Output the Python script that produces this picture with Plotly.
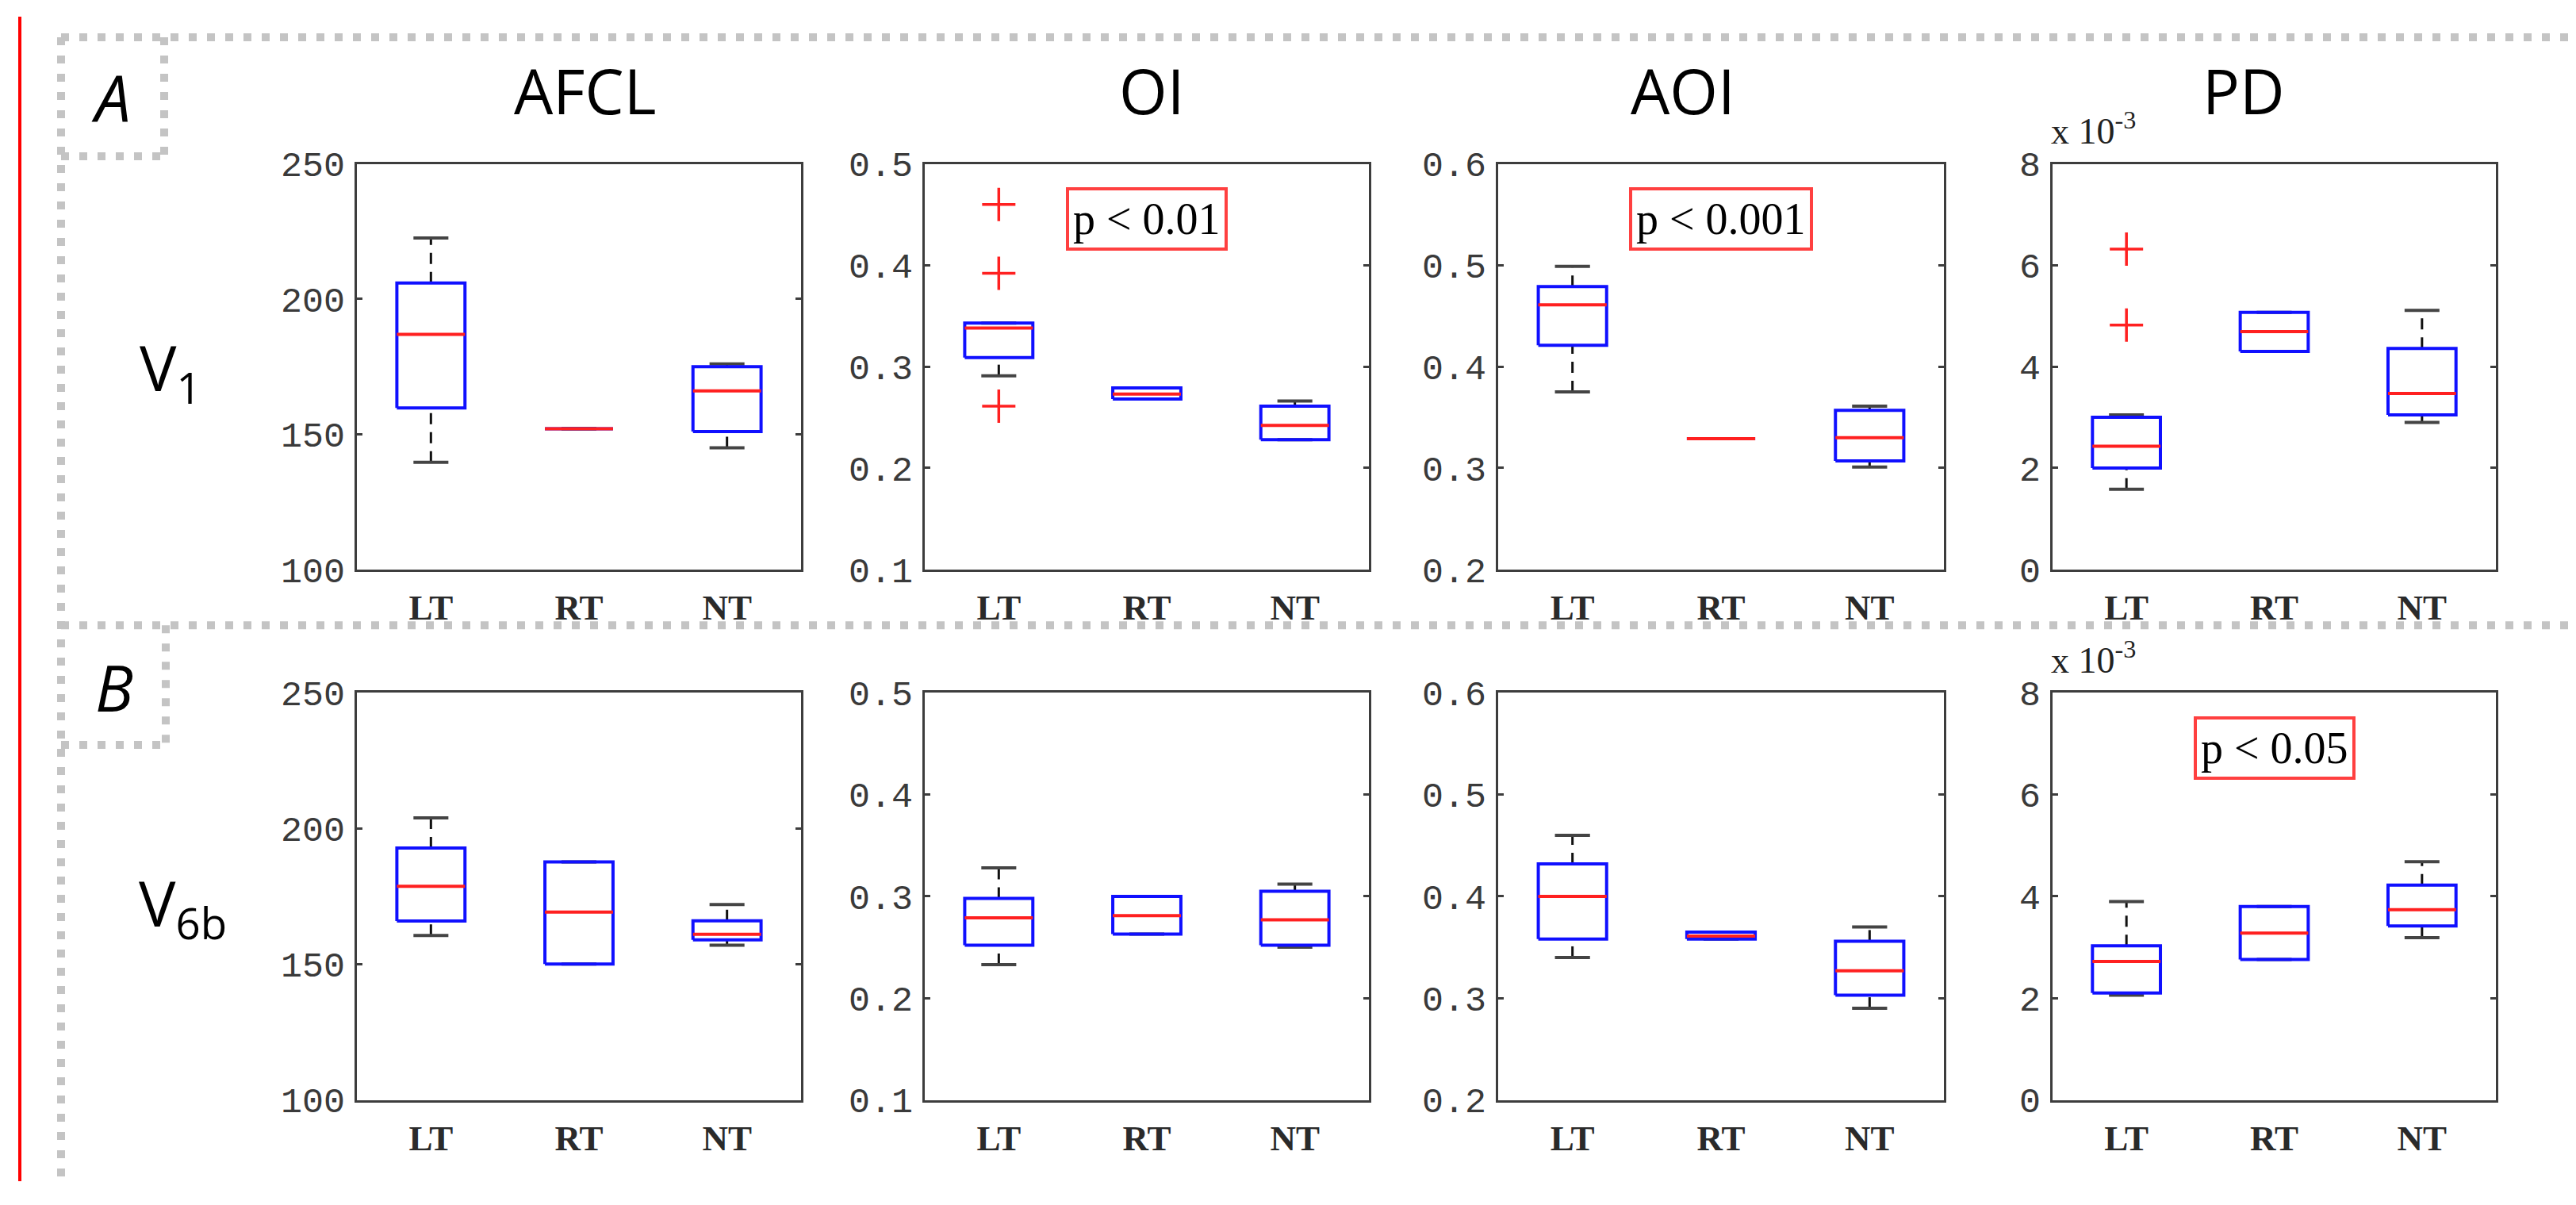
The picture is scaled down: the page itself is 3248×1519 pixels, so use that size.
import plotly.graph_objects as go

W, H = 3248, 1519

groups = ["LT", "RT", "NT"]
titles = ["AFCL", "OI", "AOI", "PD"]

# Each group: [lower whisker, Q1, median, Q3, upper whisker]
afcl_v1 = [[139.6, 159.7, 186.9, 205.9, 222.6], [152.0, 152.0, 152.0, 152.0, 152.0], [145.0, 151.0, 166.0, 175.0, 176.0]]
oi_v1 = [[0.291, 0.309, 0.338, 0.343, 0.343], [0.268, 0.268, 0.273, 0.279, 0.279], [0.228, 0.228, 0.242, 0.261, 0.266]]
aoi_v1 = [[0.375, 0.421, 0.461, 0.479, 0.499], [0.329, 0.329, 0.329, 0.329, 0.329], [0.301, 0.307, 0.330, 0.357, 0.361]]
pd_v1 = [[1.58, 2.00, 2.43, 3.00, 3.05], [4.30, 4.30, 4.69, 5.07, 5.07], [2.90, 3.05, 3.47, 4.36, 5.11]]  # x 10^-3

afcl_v6b = [[160.6, 165.9, 178.7, 192.8, 203.9], [150.1, 150.1, 169.2, 187.7, 187.7], [157.0, 159.0, 161.0, 166.0, 172.0]]
oi_v6b = [[0.233, 0.252, 0.279, 0.298, 0.328], [0.263, 0.263, 0.281, 0.300, 0.300], [0.250, 0.252, 0.277, 0.305, 0.312]]
aoi_v6b = [[0.340, 0.358, 0.400, 0.432, 0.460], [0.358, 0.358, 0.361, 0.365, 0.365], [0.290, 0.303, 0.327, 0.356, 0.370]]
pd_v6b = [[2.06, 2.10, 2.72, 3.03, 3.90], [2.76, 2.76, 3.28, 3.80, 3.80], [3.19, 3.42, 3.74, 4.22, 4.68]]  # x 10^-3

# Outliers (LT, RT, NT)
oi_v1_out = [[0.460, 0.392, 0.261], [], []]
pd_v1_out = [[6.32, 4.82], [], []]

# Axis ticks
afcl_ticks = [100, 150, 200, 250]
oi_ticks = [0.1, 0.2, 0.3, 0.4, 0.5]
aoi_ticks = [0.2, 0.3, 0.4, 0.5, 0.6]
pd_ticks = [0, 2, 4, 6, 8]

p_labels = {2: "p &lt; 0.01", 3: "p &lt; 0.001", 8: "p &lt; 0.05"}

# ---------------- layout geometry (pixels) ----------------
col_px = [(450, 1010), (1166, 1726), (1889, 2451), (2588, 3147)]
row_px = [(192, 721), (882, 1413)]
title_x = [737, 1452, 2122, 2829]


def px_x(v):
    return v / W


def px_y(v):
    return 1 - v / H


BW = 0.23   # half box width (category units)
CW = 0.118  # half cap width

AX_COL = "#3d3d3d"
BLUE = "#1010ff"
RED = "#ff2020"

fig = go.Figure()

panels = [
    (afcl_v1, afcl_ticks, None), (oi_v1, oi_ticks, oi_v1_out), (aoi_v1, aoi_ticks, None), (pd_v1, pd_ticks, pd_v1_out),
    (afcl_v6b, afcl_ticks, None), (oi_v6b, oi_ticks, None), (aoi_v6b, aoi_ticks, None), (pd_v6b, pd_ticks, None),
]

layout_axes = {}
for k, (data, ticks, outs) in enumerate(panels, start=1):
    r = (k - 1) // 4
    c = (k - 1) % 4
    xa, ya = f"x{k}", f"y{k}"
    bx, by, mx, my, wx, wy, cx, cy, ox, oy = [], [], [], [], [], [], [], [], [], []
    for i, (lo, q1, med, q3, hi) in enumerate(data):
        p = i + 1
        bx += [p - BW, p + BW, p + BW, p - BW, p - BW, None]
        by += [q1, q1, q3, q3, q1, None]
        mx += [p - BW, p + BW, None]
        my += [med, med, None]
        if hi > q3:
            wx += [p, p, None]
            wy += [q3, hi, None]
        if lo < q1:
            wx += [p, p, None]
            wy += [lo, q1, None]
        cx += [p - CW, p + CW, None, p - CW, p + CW, None]
        cy += [hi, hi, None, lo, lo, None]
        if outs:
            for v in outs[i]:
                ox.append(p)
                oy.append(v)
    common = dict(xaxis=xa, yaxis=ya, showlegend=False, hoverinfo="skip")
    fig.add_trace(go.Scatter(x=wx, y=wy, mode="lines", line=dict(color="#111111", width=3, dash="14px,10px"), **common))
    fig.add_trace(go.Scatter(x=cx, y=cy, mode="lines", line=dict(color="#444444", width=4), **common))
    fig.add_trace(go.Scatter(x=bx, y=by, mode="lines", line=dict(color=BLUE, width=4), **common))
    fig.add_trace(go.Scatter(x=mx, y=my, mode="lines", line=dict(color=RED, width=4), **common))
    if ox:
        fig.add_trace(go.Scatter(x=ox, y=oy, mode="markers",
                                 marker=dict(symbol="cross-thin", size=30, line=dict(color=RED, width=3.5)),
                                 **common))

    x0, x1 = col_px[c]
    y0, y1 = row_px[r]
    suffix = "" if k == 1 else str(k)
    layout_axes["xaxis" + suffix] = dict(
        domain=[px_x(x0), px_x(x1)], anchor=ya, range=[0.5, 3.5],
        tickvals=[1, 2, 3], ticktext=groups, ticks="",
        showline=True, mirror=True, linecolor=AX_COL, linewidth=3,
        showgrid=False, zeroline=False, fixedrange=True,
        tickfont=dict(family="Liberation Serif", size=45, color="#2a2a2a", weight="bold"),
        ticklabelstandoff=6,
    )
    layout_axes["yaxis" + suffix] = dict(
        domain=[px_y(y1), px_y(y0)], anchor=xa, range=[ticks[0], ticks[-1]],
        tickvals=ticks, ticktext=[str(t) for t in ticks],
        ticks="inside", ticklen=7, tickwidth=3, tickcolor=AX_COL,
        showline=True, mirror="ticks", linecolor=AX_COL, linewidth=3,
        showgrid=False, zeroline=False, fixedrange=True,
        tickfont=dict(family="Liberation Mono", size=45, color="#3a3a3a"),
        ticklabelstandoff=3,
    )

fig.update_layout(**layout_axes)

annotations = []
# column titles
for t, tx in zip(titles, title_x):
    annotations.append(dict(text=t, x=px_x(tx), y=px_y(96), xref="paper", yref="paper",
                            xanchor="center", yanchor="middle", showarrow=False,
                            font=dict(family="Open Sans", size=78, color="black")))
# p-value boxes
for k, txt in p_labels.items():
    data, ticks, _ = panels[k - 1]
    span = ticks[-1] - ticks[0]
    annotations.append(dict(text=txt, x=2, y=ticks[-1] - 0.135 * span, xref=f"x{k}", yref=f"y{k}",
                            xanchor="center", yanchor="middle", showarrow=False,
                            font=dict(family="Liberation Serif", size=56, color="black"),
                            bordercolor="#ff4040", borderwidth=4, borderpad=5, bgcolor="white"))
# x 10^-3 multipliers
for r in range(2):
    annotations.append(dict(text="x 10<sup>-3</sup>", x=px_x(2584), y=px_y(row_px[r][0] - 14),
                            xref="paper", yref="paper", xanchor="left", yanchor="bottom",
                            showarrow=False,
                            font=dict(family="Liberation Serif", size=46, color="#222222")))
# panel letters and row labels
annotations.append(dict(text="<i>A</i>", x=px_x(140), y=px_y(104), xref="paper", yref="paper",
                        xanchor="center", yanchor="middle", showarrow=False,
                        font=dict(family="Open Sans", size=80, color="black")))
annotations.append(dict(text="<i>B</i>", x=px_x(144), y=px_y(874), xref="paper", yref="paper",
                        xanchor="center", yanchor="middle", showarrow=False,
                        font=dict(family="Open Sans", size=80, color="black")))
annotations.append(dict(text="V<sub>1</sub>", x=px_x(215), y=px_y(462), xref="paper", yref="paper",
                        xanchor="center", yanchor="middle", showarrow=False,
                        font=dict(family="Open Sans", size=78, color="black")))
annotations.append(dict(text="V<sub>6b</sub>", x=px_x(230), y=px_y(1160), xref="paper", yref="paper",
                        xanchor="center", yanchor="middle", showarrow=False,
                        font=dict(family="Open Sans", size=78, color="black")))

DOT = dict(color="#c4c4c4", width=10, dash="10px,13px")
shapes = [
    # left red border
    dict(type="line", xref="paper", yref="paper", x0=px_x(25), x1=px_x(25), y0=0, y1=1,
         line=dict(color="#ff0000", width=4)),
    # outer dotted frame
    dict(type="line", xref="paper", yref="paper", x0=px_x(77), x1=1, y0=px_y(27), y1=px_y(27), line=DOT),
    dict(type="line", xref="paper", yref="paper", x0=px_x(77), x1=1, y0=px_y(794), y1=px_y(794), line=DOT),
    dict(type="line", xref="paper", yref="paper", x0=px_x(77), x1=px_x(77), y0=px_y(27), y1=0, line=DOT),
    # A label box
    dict(type="line", xref="paper", yref="paper", x0=px_x(207), x1=px_x(207), y0=px_y(27), y1=px_y(182), line=DOT),
    dict(type="line", xref="paper", yref="paper", x0=px_x(77), x1=px_x(207), y0=px_y(182), y1=px_y(182), line=DOT),
    # B label box
    dict(type="line", xref="paper", yref="paper", x0=px_x(209), x1=px_x(209), y0=px_y(794), y1=px_y(950), line=DOT),
    dict(type="line", xref="paper", yref="paper", x0=px_x(77), x1=px_x(209), y0=px_y(950), y1=px_y(950), line=DOT),
]

fig.update_layout(
    width=W, height=H, autosize=False,
    margin=dict(l=0, r=0, t=0, b=0),
    paper_bgcolor="white", plot_bgcolor="white",
    annotations=annotations, shapes=shapes,
)

fig.write_html("out.html", config={"displayModeBar": False},
               post_script="document.body.style.margin='0';document.body.style.overflow='hidden';")
